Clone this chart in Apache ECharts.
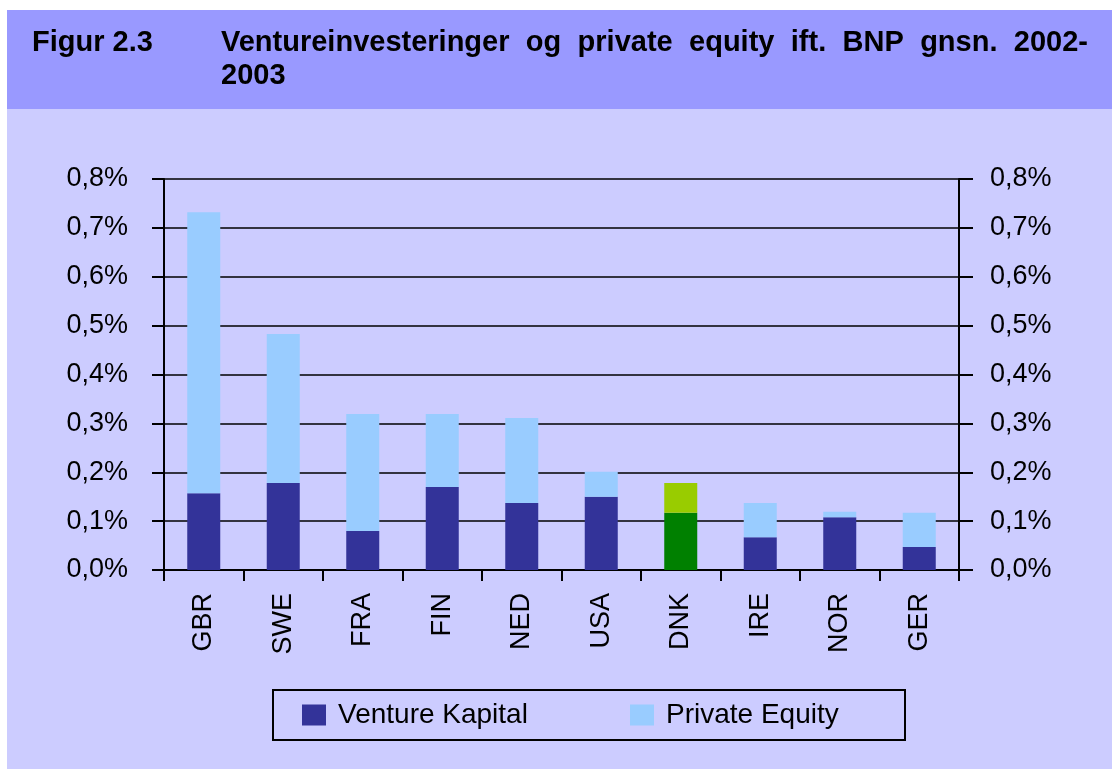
<!DOCTYPE html>
<html>
<head>
<meta charset="utf-8">
<script src="https://cdn.jsdelivr.net/npm/echarts@6.0.0/dist/echarts.min.js"></script>
<style>
  html, body { margin: 0; padding: 0; background: #ffffff; }
  #bg { position: absolute; left: 7px; top: 10px; width: 1105px; height: 759px; background: #ccccff; }
  #band { position: absolute; left: 7px; top: 10px; width: 1105px; height: 99px; background: #9999ff; }
  #main { position: absolute; left: 0; top: 0; width: 1112px; height: 769px; }
</style>
</head>
<body>
<div id="bg"></div>
<div id="band"></div>
<div id="main"></div>
<script>
// data (percent of GDP)
var categories = ['GBR', 'SWE', 'FRA', 'FIN', 'NED', 'USA', 'DNK', 'IRE', 'NOR', 'GER']
var ventureKapital = [0.157, 0.178, 0.08, 0.17, 0.137, 0.15, 0.117, 0.067, 0.108, 0.047]
var privateEquity = [0.575, 0.305, 0.239, 0.149, 0.174, 0.051, 0.061, 0.07, 0.011, 0.07]
var yTicks = [0, 0.1, 0.2, 0.3, 0.4, 0.5, 0.6, 0.7, 0.8]

var font = '"Liberation Sans", Arial, sans-serif'
var titleLead = 'Figur 2.3'
var titleLine1 = 'Ventureinvesteringer og private equity ift. BNP gnsn. 2002-'
var titleLine2 = '2003'

// justify the first title line between x1 and x2
function justifiedWords(text, x1, x2, y) {
  var ctx = document.createElement('canvas').getContext('2d')
  ctx.font = 'bold 29px ' + font
  var words = text.split(' ')
  var widths = words.map(function (w) { return ctx.measureText(w).width })
  var total = widths.reduce(function (a, b) { return a + b }, 0)
  var gap = (x2 - x1 - total) / (words.length - 1)
  var x = x1
  return words.map(function (w, i) {
    var el = {
      type: 'text', left: x, top: y - 14.5,
      style: { text: w, fill: '#000', font: 'bold 29px ' + font }
    }
    x += widths[i] + gap
    return el
  })
}

var myChart = echarts.init(document.getElementById('main'))

function pctLabel(v) {
  return v.toFixed(1).replace('.', ',') + '%'
}

var option = {
  backgroundColor: 'transparent',
  animation: false,
  graphic: [
    { type: 'text', left: 32, top: 28, style: { text: titleLead, fill: '#000', font: 'bold 29px ' + font } },
    { type: 'text', left: 221, top: 61, style: { text: titleLine2, fill: '#000', font: 'bold 29px ' + font } }
  ].concat(justifiedWords(titleLine1, 221, 1088, 42.5)),
  grid: {
    left: 164,
    right: 153,
    top: 179,
    bottom: 199,
    containLabel: false,
    outerBoundsMode: 'none'
  },
  legend: {
    left: 273,
    top: 690,
    padding: [11, 22, 11, 29],
    borderColor: '#000',
    borderWidth: 2,
    icon: 'rect',
    itemWidth: 24,
    itemHeight: 21,
    itemGap: 49,
    textStyle: { fontSize: 28, fontFamily: font, color: '#000', lineHeight: 28, padding: [0, 0, 0, 7] },
    data: [
      { name: 'Venture Kapital', textStyle: { width: 243 } },
      { name: 'Private Equity', textStyle: { width: 217 } }
    ]
  },
  xAxis: {
    type: 'category',
    data: categories,
    axisLine: { show: true, lineStyle: { color: '#000', width: 2 } },
    axisTick: { show: true, length: 11, lineStyle: { color: '#000', width: 2 } },
    axisLabel: {
      rotate: 90,
      margin: 23,
      fontSize: 27,
      fontFamily: font,
      color: '#000',
      padding: [0, 0, 26, 0]
    }
  },
  yAxis: [
    {
      type: 'value',
      position: 'left',
      min: 0,
      max: 0.8,
      interval: 0.1,
      axisLine: { show: true, lineStyle: { color: '#000', width: 2 } },
      axisTick: { show: true, length: 12, lineStyle: { color: '#000', width: 2 } },
      splitLine: { show: true, lineStyle: { color: '#000', width: 1.5 } },
      axisLabel: { margin: 36, fontSize: 27, fontFamily: font, color: '#000', formatter: pctLabel }
    },
    {
      type: 'value',
      position: 'right',
      min: 0,
      max: 0.8,
      interval: 0.1,
      axisLine: { show: true, lineStyle: { color: '#000', width: 2 } },
      axisTick: { show: true, length: 14, lineStyle: { color: '#000', width: 2 } },
      splitLine: { show: false },
      axisLabel: { margin: 31, fontSize: 27, fontFamily: font, color: '#000', formatter: pctLabel }
    }
  ],
  series: [
    {
      name: 'Venture Kapital',
      type: 'bar',
      stack: 'total',
      barWidth: 33,
      itemStyle: { color: '#333399' },
      data: ventureKapital.map(function (v, i) {
        return categories[i] === 'DNK' ? { value: v, itemStyle: { color: '#008000' } } : v
      })
    },
    {
      name: 'Private Equity',
      type: 'bar',
      stack: 'total',
      barWidth: 33,
      itemStyle: { color: '#99ccff' },
      data: privateEquity.map(function (v, i) {
        return categories[i] === 'DNK' ? { value: v, itemStyle: { color: '#99cc00' } } : v
      })
    }
  ]
}

myChart.setOption(option)
</script>
</body>
</html>
